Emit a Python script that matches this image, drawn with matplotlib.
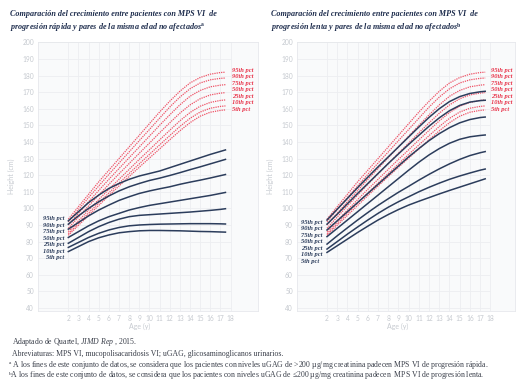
import matplotlib.pyplot as plt
import numpy as np

plt.rcParams['font.family'] = ['Lato', 'DejaVu Sans']
plt.rcParams['mathtext.fontset'] = 'custom'
plt.rcParams['mathtext.rm'] = 'Liberation Serif'
plt.rcParams['mathtext.it'] = 'Liberation Serif:italic'
plt.rcParams['mathtext.bf'] = 'Liberation Serif:bold'

# ages (years) where the curves are read
ages = [2, 3, 4, 5, 6, 7, 8, 9, 10, 11, 12, 13, 14, 15, 16, 17, 17.5]
pct_names = ['95th pct', '90th pct', '75th pct', '50th pct', '25th pct', '10th pct', '5th pct']

# unaffected peers (red dotted, same in both panels)
ref_p95 = [93.5, 101, 108.5, 116, 123, 130, 137, 144, 151, 158, 164.5, 170.5, 175.5, 178.8, 180.8, 181.8, 182]
ref_p90 = [92, 99.3, 106.5, 113.5, 120.5, 127.3, 134, 140.8, 147.5, 154.3, 161, 167, 172, 175.5, 177.4, 178.3, 178.5]
ref_p75 = [90, 97, 104, 110.8, 117.5, 124, 130.5, 137, 143.5, 150, 156.3, 162.3, 167.5, 171, 173.2, 174.2, 174.5]
ref_p50 = [88, 94.8, 101.5, 108, 114.5, 120.8, 127, 133.2, 139.3, 145.5, 151.5, 157.3, 162.3, 166, 168.3, 169.4, 169.7]
ref_p25 = [86, 92.5, 99, 105.3, 111.5, 117.5, 123.5, 129.5, 135.3, 141.2, 147, 152.7, 157.7, 161.5, 163.8, 165, 165.3]
ref_p10 = [84.8, 91, 97.2, 103.3, 109.3, 115.2, 121, 126.8, 132.5, 138.2, 143.8, 149.3, 154.2, 158, 160.3, 161.4, 161.7]
ref_p5 = [83.8, 89.8, 95.8, 101.8, 107.7, 113.5, 119.2, 124.8, 130.3, 135.8, 141.3, 146.7, 151.6, 155.5, 157.9, 159, 159.3]

# rapidly progressing MPS VI
rap_p95 = [92.5, 98, 103.5, 108, 112, 115, 117.5, 119.5, 121, 122.5, 124.5, 126.5, 128.5, 130.5, 132.5, 134.3, 135.2]
rap_p90 = [90.5, 95.5, 100, 104, 107.5, 110.5, 113, 115, 116.8, 118.2, 119.8, 121.5, 123.3, 125, 126.8, 128.6, 129.5]
rap_p75 = [87.5, 91.5, 95.5, 99, 102, 104.8, 107, 109, 110.5, 111.8, 113, 114.5, 115.8, 117, 118.3, 119.7, 120.4]
rap_p50 = [82.5, 86, 89.5, 92.5, 95, 97, 99, 100.5, 101.8, 102.8, 103.8, 104.8, 105.8, 106.8, 107.8, 109, 109.6]
rap_p25 = [79, 82.5, 86, 89, 91.5, 93.5, 95, 95.8, 96.2, 96.6, 97, 97.4, 97.8, 98.3, 98.8, 99.4, 99.8]
rap_p10 = [76.5, 79.5, 82.5, 85, 87, 88.5, 89.5, 90, 90.3, 90.5, 90.6, 90.7, 90.8, 90.8, 90.8, 90.7, 90.6]
rap_p5 = [74, 77, 80, 82.3, 84, 85.3, 86, 86.5, 86.7, 86.7, 86.6, 86.5, 86.3, 86.1, 86, 85.8, 85.7]

# slowly progressing MPS VI
slow_p95 = [93, 99.5, 106, 112.5, 118.8, 125, 131, 137, 143, 149, 154.8, 160, 164.3, 167.3, 169.2, 170.2, 170.5]
slow_p90 = [90.5, 96.5, 102.8, 109, 115, 121, 127, 132.8, 138.5, 144, 149.5, 154.5, 158.8, 162, 164, 164.9, 165.1]
slow_p75 = [87, 92.5, 98, 103.5, 109, 114.5, 120, 125.5, 131, 136, 140.8, 145, 148.6, 151.5, 153.5, 154.7, 155]
slow_p50 = [83, 88, 93, 98, 103, 108, 113, 118, 123, 127.8, 132.2, 136, 139.2, 141.6, 143.1, 143.9, 144.2]
slow_p25 = [78.5, 83.5, 88.3, 93, 97.5, 101.8, 105.8, 109.7, 113.3, 117, 120.5, 123.8, 126.8, 129.5, 131.8, 133.5, 134.2]
slow_p10 = [75.5, 80, 84.5, 88.8, 93, 97, 100.7, 104, 107, 110, 112.7, 115.2, 117.5, 119.5, 121.3, 123, 123.7]
slow_p5 = [73.5, 77.5, 81.5, 85.5, 89.3, 93, 96.3, 99.3, 102, 104.3, 106.5, 108.7, 110.8, 112.8, 114.8, 116.8, 117.8]

ref = [ref_p95, ref_p90, ref_p75, ref_p50, ref_p25, ref_p10, ref_p5]
rapid = [rap_p95, rap_p90, rap_p75, rap_p50, rap_p25, rap_p10, rap_p5]
slow = [slow_p95, slow_p90, slow_p75, slow_p50, slow_p25, slow_p10, slow_p5]

navy = '#2c3d5c'
red = '#ee5266'
grey = '#c6cad0'
serif = ['Liberation Serif', 'DejaVu Serif']

fig = plt.figure(figsize=(5.22, 3.9), dpi=100)


def panel(rect, xlim, pts, red_lab_x, blk_lab_x, blk_ha, blk_top, xlab_pos, ylab_x):
    ax = fig.add_axes(rect)
    ax.set_facecolor('#f9fafb')
    ax.set_xlim(*xlim)
    ax.set_ylim(38.4, 200)
    # grid only spans to age 18
    ax.hlines(np.arange(40, 201, 10), xlim[0], 18, color='#eceef1', lw=0.6, zorder=0)
    ax.vlines(np.arange(2, 19), 38.4, 200, color='#eceef1', lw=0.6, zorder=0)
    for s in ax.spines.values():
        s.set_color('#e6e8ec')
        s.set_linewidth(0.6)

    for c in ref:
        ax.plot(ages, c, color=red, lw=0.9, ls=(0, (1, 0.8)))
    for c in pts:
        ax.plot(ages, c, color=navy, lw=1.1)

    for i, name in enumerate(pct_names):
        ax.text(red_lab_x, 183.3 - i * 3.95, name, color='#e8344b', fontsize=4.7,
                fontweight='bold', style='italic', family=serif, va='center', ha='left')
        ax.text(blk_lab_x, blk_top - i * 3.93, name, color=navy, fontsize=4.7,
                fontweight='bold', style='italic', family=serif, va='center', ha=blk_ha)

    ax.set_xticks(range(2, 19))
    ax.set_yticks(range(40, 201, 10))
    ax.tick_params(length=0, labelsize=4.8, labelcolor=grey, pad=3)
    ax.set_xlabel('Age (y)', fontsize=5, color=grey, labelpad=1.5)
    ax.xaxis.set_label_coords(xlab_pos, -0.045)
    ax.set_ylabel('Height (cm)', fontsize=5, color=grey)
    ax.yaxis.set_label_coords(ylab_x, 0.5)
    return ax


panel([38 / 522, 79.3 / 390, 220 / 522, 268.4 / 390], (-0.99, 20.71), rapid,
      18.13, 1.58, 'right', 93.8, 0.464, -0.105)
panel([297 / 522, 79.3 / 390, 218 / 522, 268.4 / 390], (-0.94, 20.42), slow,
      18.06, -0.55, 'left', 91.8, 0.462, -0.105)

title_kw = dict(fontsize=5.9, fontweight='bold', style='italic', family=serif,
                color='#1f2e4e', va='top', ha='left', linespacing=1.35)
fig.text(10 / 522, 1 - 10 / 390,
         'Comparación del crecimiento entre pacientes con MPS VI  de\n'
         'progresión rápida y pares de la misma edad no afectados$^{\\mathbf{a}}$', **title_kw)
fig.text(271 / 522, 1 - 10 / 390,
         'Comparación del crecimiento entre pacientes con MPS VI  de\n'
         'progresión lenta y pares de la misma edad no afectados$^{\\mathbf{b}}$', **title_kw)

note_kw = dict(fontsize=5.6, family=serif, color='#3a3f4a', va='center', ha='left')
fig.text(12 / 522, 1 - 342 / 390, 'Adaptado de Quartel, $\\mathit{JIMD\\ Rep}$ , 2015.', **note_kw)
fig.text(12 / 522, 1 - 354 / 390,
         'Abreviaturas: MPS VI, mucopolisacaridosis VI; uGAG, glicosaminoglicanos urinarios.', **note_kw)
fig.text(8 / 522, 1 - 365 / 390,
         '$^{\\mathrm{a}}$ A los fines de este conjunto de datos, se considera que los pacientes con niveles '
         'uGAG de >200 µg/mg creatinina padecen MPS VI de progresión rápida.', **note_kw)
fig.text(8 / 522, 1 - 376 / 390,
         '$^{\\mathrm{b}}$A los fines de este conjunto de datos, se considera que los pacientes con niveles '
         'uGAG de ≤200 µg/mg creatinina padecen  MPS VI de progresión lenta.', **note_kw)

fig.savefig('out.png', dpi=100)
